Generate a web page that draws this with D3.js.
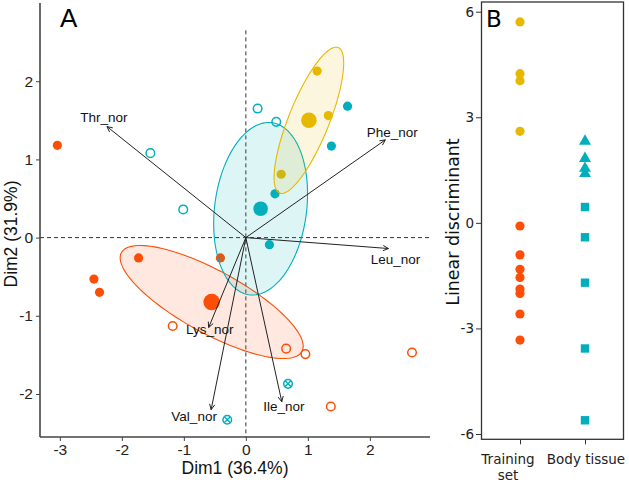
<!DOCTYPE html>
<html><head><meta charset="utf-8">
<script src="https://cdn.jsdelivr.net/npm/d3@7"></script>
<style>body{margin:0;background:#fff}svg{display:block}</style>
</head><body>
<svg id="c" width="629" height="483"></svg>
<script>
// ---------- Panel A data (PCA biplot) ----------
const orangeFilled = [[-3.04,1.18],[-1.73,-0.26],[-2.45,-0.53],[-2.36,-0.70],[-0.41,-0.26]];
const orangeOpen   = [[-1.18,-1.13],[0.65,-1.42],[0.96,-1.49],[2.68,-1.47],[1.37,-2.16]];
const cyanOpen     = [[-1.54,1.08],[-1.01,0.36],[0.19,1.65],[0.49,1.48]];
const cyanCrossed  = [[0.68,-1.87],[-0.30,-2.33]];
const cyanFilled   = [[1.64,1.68],[1.38,1.17],[0.47,0.56],[0.38,-0.09]];
const yellowFilled = [[1.15,2.13],[1.33,1.56],[0.57,0.81]];
const varNames = ["Thr_nor","Phe_nor","Leu_nor","Lys_nor","Val_nor","Ile_nor"];
const varX = [-2.24, 2.25, 2.30, -0.60, -0.56, 0.58];
const varY = [ 1.42, 1.25, -0.14, -1.15, -2.20, -2.10];
const xTicksA = [-3,-2,-1,0,1,2];
const yTicksA = [-2,-1,0,1,2];
// ---------- Panel B data (LDA) ----------
const bCategories = ["Training\nset","Body tissue"];
const trainYellow = [5.71, 4.24, 4.04, 2.60];
const trainOrange = [-0.09,-0.91,-1.32,-1.55,-1.88,-2.01,-2.59,-3.33];
const bodyTriangle = [2.32, 1.83, 1.55, 1.40];
const bodySquare = [0.45,-0.41,-1.70,-3.57,-5.61];
const yTicksB = [-6,-3,0,3,6];

const ORANGE="#FC4E07", CYAN="#00AFBB", YELLOW="#E7B800";
const svg = d3.select("#c");
const fA = "Liberation Sans, Arial, sans-serif";
const fB = "DejaVu Sans, Verdana, sans-serif";

// ===== Panel A =====
const x = d3.scaleLinear().domain([-3.32, 2.97]).range([40, 430]);
const y = d3.scaleLinear().domain([-2.55, 3.0]).range([437, 3]);
const A = svg.append("g");

// dashed reference lines
A.append("line").attr("x1",x(-3.32)).attr("x2",x(2.97)).attr("y1",y(0)).attr("y2",y(0))
 .attr("stroke","#333").attr("stroke-dasharray","4,3").attr("stroke-width",1);
A.append("line").attr("x1",x(0)).attr("x2",x(0)).attr("y1",y(2.65)).attr("y2",y(-2.55))
 .attr("stroke","#333").attr("stroke-dasharray","4,3").attr("stroke-width",1);

// points
function filled(data,col,r){A.selectAll(null).data(data).enter().append("circle")
  .attr("cx",d=>x(d[0])).attr("cy",d=>y(d[1])).attr("r",r).attr("fill",col);}
function open(data,col){A.selectAll(null).data(data).enter().append("circle")
  .attr("cx",d=>x(d[0])).attr("cy",d=>y(d[1])).attr("r",4.3).attr("fill","none")
  .attr("stroke",col).attr("stroke-width",1.5);}
filled(orangeFilled,ORANGE,4.6);
open(orangeOpen,ORANGE);
open(cyanOpen,CYAN);
open(cyanCrossed,CYAN);
const cr = A.selectAll(null).data(cyanCrossed).enter().append("g")
  .attr("transform",d=>`translate(${x(d[0])},${y(d[1])})`);
cr.append("path").attr("d","M-3,-3L3,3M-3,3L3,-3").attr("stroke",CYAN).attr("stroke-width",1.4);
filled(cyanFilled,CYAN,4.6);
filled(yellowFilled,YELLOW,4.6);

// groups: confidence ellipses + means
const groups = [
  {pts: orangeFilled.concat(orangeOpen), col: ORANGE, mr: 8.3},
  {pts: cyanOpen.concat(cyanCrossed, cyanFilled), col: CYAN, mr: 7.3},
  {pts: yellowFilled, col: YELLOW, mr: 7.8}
];
const chi2 = 5.991;
groups.forEach(g=>{
  const n=g.pts.length;
  const mx=d3.mean(g.pts,d=>d[0]), my=d3.mean(g.pts,d=>d[1]);
  let sxx=0,syy=0,sxy=0;
  g.pts.forEach(d=>{sxx+=(d[0]-mx)**2;syy+=(d[1]-my)**2;sxy+=(d[0]-mx)*(d[1]-my);});
  sxx/=(n-1);syy/=(n-1);sxy/=(n-1);
  const tr=sxx+syy, det=sxx*syy-sxy*sxy, disc=Math.sqrt(tr*tr/4-det);
  const l1=tr/2+disc, l2=tr/2-disc;
  const th=Math.atan2(l1-sxx, sxy);
  const k=Math.sqrt(chi2/n);
  const a=k*Math.sqrt(l1), b=k*Math.sqrt(Math.max(l2,0));
  const ring=d3.range(0,361,3).map(t=>{t=t*Math.PI/180;
    const ex=a*Math.cos(t), ey=b*Math.sin(t);
    return [x(mx+ex*Math.cos(th)-ey*Math.sin(th)), y(my+ex*Math.sin(th)+ey*Math.cos(th))];});
  A.append("path").attr("d",d3.line()(ring)+"Z").attr("fill",g.col).attr("fill-opacity",0.13)
   .attr("stroke",g.col).attr("stroke-width",1.1);
  g.mean=[mx,my];
});
groups.forEach(g=>{
  A.append("circle").attr("cx",x(g.mean[0])).attr("cy",y(g.mean[1])).attr("r",g.mr).attr("fill",g.col);
});

// variable arrows
const nudge = {Thr_nor:[-3,-9],Phe_nor:[7,-7],Leu_nor:[7,11],Lys_nor:[1,2],Val_nor:[-17,7],Ile_nor:[2,5]};
varNames.forEach((nm,i)=>{
  const x0=x(0), y0=y(0), x1=x(varX[i]), y1=y(varY[i]);
  A.append("line").attr("x1",x0).attr("y1",y0).attr("x2",x1).attr("y2",y1)
   .attr("stroke","#222").attr("stroke-width",1);
  const ang=Math.atan2(y1-y0,x1-x0), L=6, w=0.45;
  A.append("path").attr("d",`M${x1-L*Math.cos(ang-w)},${y1-L*Math.sin(ang-w)}L${x1},${y1}L${x1-L*Math.cos(ang+w)},${y1-L*Math.sin(ang+w)}`)
   .attr("fill","none").attr("stroke","#222").attr("stroke-width",1);
  A.append("text").attr("x",x1+nudge[nm][0]).attr("y",y1+nudge[nm][1])
   .attr("text-anchor","middle").attr("dominant-baseline","central")
   .attr("font-family",fA).attr("font-size",13.5).attr("fill","#111").text(nm);
});

// axes A
const axA = d3.axisBottom(x).tickValues(xTicksA).tickSize(4).tickPadding(3).tickFormat(d3.format("d"));
const gx = A.append("g").attr("transform","translate(0,437)").call(axA);
gx.select(".domain").attr("d","M40,0H430").attr("stroke","#444").attr("stroke-width",1.6);
const ayA = d3.axisLeft(y).tickValues(yTicksA).tickSize(4).tickPadding(3).tickFormat(d3.format("d"));
const gy = A.append("g").attr("transform","translate(40,0)").call(ayA);
gy.select(".domain").attr("d","M0,3V437").attr("stroke","#444").attr("stroke-width",1.6);
[gx,gy].forEach(g=>{g.selectAll(".tick line").attr("stroke","#444");
  g.selectAll(".tick text").attr("font-family",fA).attr("font-size",15.5).attr("fill","#222");});
gx.selectAll(".tick text").text(d=>d<0?"-"+Math.abs(d):d);
gy.selectAll(".tick text").text(d=>d<0?"-"+Math.abs(d):d);
A.append("text").attr("x",235).attr("y",474).attr("text-anchor","middle")
 .attr("font-family",fA).attr("font-size",17.5).attr("fill","#111").text("Dim1 (36.4%)");
A.append("text").attr("transform","translate(17,234) rotate(-90)").attr("text-anchor","middle")
 .attr("font-family",fA).attr("font-size",17.5).attr("fill","#111").text("Dim2 (31.9%)");
A.append("text").attr("x",60).attr("y",27).attr("font-family",fA).attr("font-size",26).attr("fill","#000").text("A");

// ===== Panel B =====
const xb = d3.scalePoint().domain(bCategories).range([520,585]);
const yb = d3.scaleLinear().domain([-6,6]).range([434,11.7]);
const B = svg.append("g");
B.append("rect").attr("x",481.5).attr("y",2).attr("width",142).attr("height",437.3)
 .attr("fill","none").attr("stroke","#333").attr("stroke-width",1.3);
B.append("text").attr("x",486).attr("y",27).attr("font-family",fB).attr("font-size",23).attr("fill","#000").text("B");

B.selectAll(null).data(trainYellow).enter().append("circle").attr("cx",xb(bCategories[0])).attr("cy",d=>yb(d)).attr("r",4.6).attr("fill",YELLOW);
B.selectAll(null).data(trainOrange).enter().append("circle").attr("cx",xb(bCategories[0])).attr("cy",d=>yb(d)).attr("r",4.6).attr("fill",ORANGE);
B.selectAll(null).data(bodyTriangle).enter().append("path")
 .attr("d",d3.symbol(d3.symbolTriangle,62)).attr("transform",d=>`translate(${xb(bCategories[1])},${yb(d)})`).attr("fill",CYAN);
B.selectAll(null).data(bodySquare).enter().append("rect")
 .attr("x",xb(bCategories[1])-4.2).attr("y",d=>yb(d)-4.2).attr("width",8.4).attr("height",8.4).attr("fill",CYAN);

const ayB = d3.axisLeft(yb).tickValues(yTicksB).tickSize(5).tickPadding(2).tickFormat(d=>d<0?"-"+Math.abs(d):d);
const gyb = B.append("g").attr("transform","translate(481,0)").call(ayB);
gyb.select(".domain").remove();
gyb.selectAll(".tick line").attr("stroke","#333");
gyb.selectAll(".tick text").attr("font-family",fB).attr("font-size",13.5).attr("fill","#222");
const axB = d3.axisBottom(xb).tickSize(5).tickFormat("");
const gxb = B.append("g").attr("transform","translate(0,439.3)").call(axB);
gxb.select(".domain").remove();
gxb.selectAll(".tick line").attr("stroke","#333");
// category labels (multi-line)
bCategories.forEach((c,i)=>{
  const lines=c.split("\n");
  const t=B.append("text").attr("font-family",fB).attr("font-size",13.5).attr("fill","#222")
   .attr("text-anchor","middle");
  lines.forEach((ln,j)=>t.append("tspan").attr("x",xb(c)+(i===0?-12:1)).attr("y",463.5+j*16.5).text(ln));
});
B.append("text").attr("transform","translate(459,222) rotate(-90)").attr("text-anchor","middle")
 .attr("font-family",fB).attr("font-size",17.4).attr("fill","#111").text("Linear discriminant");
</script>
</body></html>
